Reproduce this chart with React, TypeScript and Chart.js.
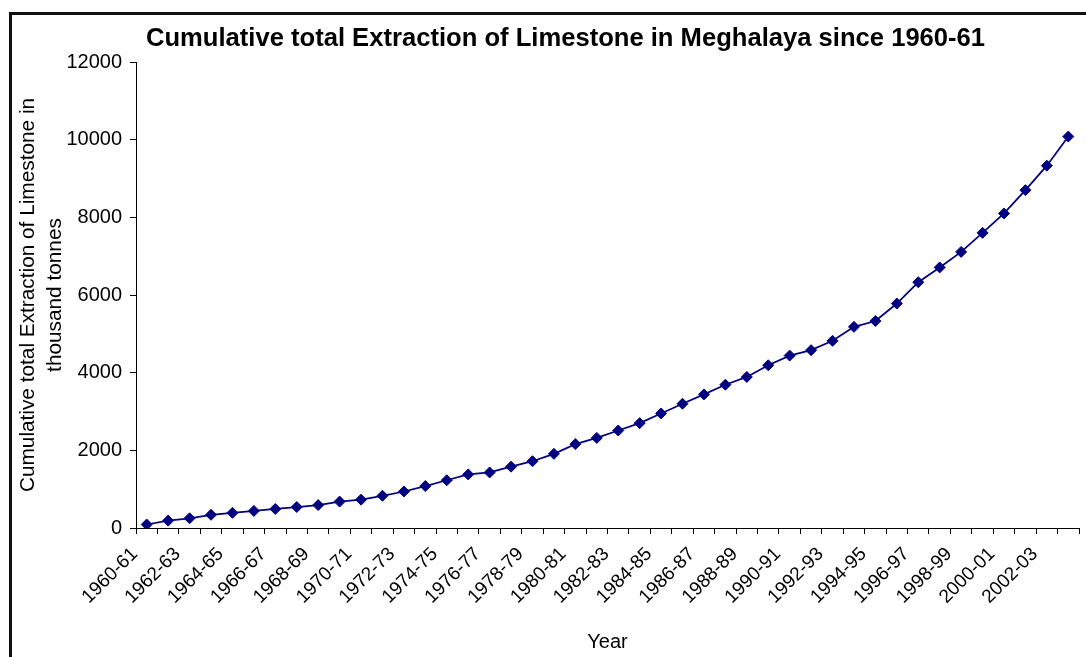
import React, { useEffect, useRef } from "react";
import { Chart, registerables } from "chart.js";

Chart.register(...registerables);

const years = [
  "1960-61", "1961-62", "1962-63", "1963-64", "1964-65", "1965-66", "1966-67", "1967-68",
  "1968-69", "1969-70", "1970-71", "1971-72", "1972-73", "1973-74", "1974-75", "1975-76",
  "1976-77", "1977-78", "1978-79", "1979-80", "1980-81", "1981-82", "1982-83", "1983-84",
  "1984-85", "1985-86", "1986-87", "1987-88", "1988-89", "1989-90", "1990-91", "1991-92",
  "1992-93", "1993-94", "1994-95", "1995-96", "1996-97", "1997-98", "1998-99", "1999-00",
  "2000-01", "2001-02", "2002-03", "2003-04",
];

const cumulativeExtraction = [
  90, 190, 250, 340, 390, 440, 490, 540, 590, 680,
  730, 830, 940, 1080, 1230, 1380, 1430, 1580, 1720, 1910,
  2160, 2320, 2510, 2700, 2950, 3200, 3440, 3690, 3890, 4190,
  4440, 4580, 4820, 5180, 5330, 5780, 6330, 6710, 7110, 7600,
  8100, 8700, 9330, 10080,
];

const titleText = "Cumulative total Extraction of Limestone in Meghalaya since 1960-61";
const yTitleLines = ["Cumulative total Extraction of Limestone in", "thousand tonnes"];
const xTitleText = "Year";

const FONT = 'Arial, "Liberation Sans", sans-serif';

const titlePlugin = {
  id: "customTitle",
  afterDraw(chart: any) {
    const ctx = chart.ctx;
    ctx.save();
    ctx.fillStyle = "#000";
    ctx.font = `bold 25.6px ${FONT}`;
    ctx.textAlign = "center";
    ctx.textBaseline = "middle";
    ctx.fillText(titleText, 565.5, 39);
    ctx.restore();
  },
};

export default function App() {
  const ref = useRef<HTMLCanvasElement | null>(null);

  useEffect(() => {
    if (!ref.current) return;
    const chart = new Chart(ref.current, {
      type: "line",
      data: {
        labels: years,
        datasets: [
          {
            data: cumulativeExtraction,
            borderColor: "#000080",
            backgroundColor: "#000080",
            borderWidth: 1.75,
            pointStyle: "rectRot",
            pointRadius: 5.5,
            pointBorderWidth: 1,
            pointBackgroundColor: "#000080",
            pointBorderColor: "#000080",
            tension: 0,
          },
        ],
      },
      options: {
        responsive: false,
        animation: false,
        events: [],
        layout: { padding: { left: 0, right: 7, top: 62, bottom: 2 } },
        plugins: {
          legend: { display: false },
          title: { display: false },
          tooltip: { enabled: false },
        },
        scales: {
          x: {
            type: "category",
            offset: true,
            afterFit(scale: any) {
              scale.height = 657 - 528 - 2;
              scale.paddingRight = 0;
              scale.paddingLeft = 0;
            },
            grid: {
              display: true,
              offset: true,
              drawOnChartArea: false,
              drawTicks: true,
              tickLength: 6,
              color: "#000",
              lineWidth: 1,
            },
            border: { display: true, color: "#000", width: 1 },
            ticks: {
              autoSkip: false,
              maxRotation: 45,
              minRotation: 45,
              padding: 9,
              labelOffset: -12,
              color: "#000",
              font: { family: FONT, size: 19 },
              callback: (_v: any, i: number) => (i % 2 === 0 ? years[i] : ""),
            },
            title: {
              display: true,
              text: xTitleText,
              color: "#000",
              font: { family: FONT, size: 20 },
              padding: { top: 0, bottom: 1 },
            },
          },
          y: {
            min: 0,
            max: 12000,
            afterFit(scale: any) {
              scale.width = 136;
            },
            grid: {
              display: true,
              drawOnChartArea: false,
              drawTicks: true,
              tickLength: 6,
              color: "#000",
              lineWidth: 1,
            },
            border: { display: true, color: "#000", width: 1 },
            ticks: {
              stepSize: 2000,
              padding: 8,
              color: "#000",
              font: { family: FONT, size: 20 },
              callback: (v: any) => String(v),
            },
            title: {
              display: true,
              text: yTitleLines,
              color: "#000",
              font: { family: FONT, size: 20.8, lineHeight: 1.3 },
              padding: { top: 14.5, bottom: 0 },
            },
          },
        },
      },
      plugins: [titlePlugin],
    });
    return () => chart.destroy();
  }, []);

  return (
    <div
      style={{
        position: "fixed",
        left: 0,
        top: 0,
        width: 1086,
        height: 657,
        overflow: "hidden",
        background: "#fff",
      }}
    >
      <div
        style={{
          position: "absolute",
          left: 9,
          top: 12,
          width: 1200,
          height: 800,
          border: "3px solid #111",
          boxSizing: "border-box",
        }}
      />
      <canvas
        ref={ref}
        width={1086}
        height={657}
        style={{ position: "absolute", left: 0, top: 0, width: 1086, height: 657 }}
      />
    </div>
  );
}
